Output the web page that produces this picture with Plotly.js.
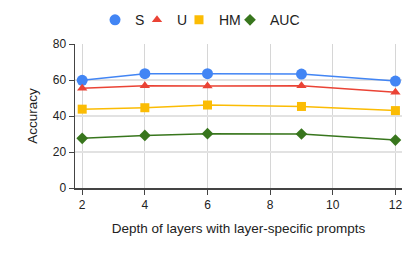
<!DOCTYPE html>
<html><head><meta charset="utf-8">
<script src="https://cdn.plot.ly/plotly-3.0.1.min.js"></script>
<style>html,body{margin:0;padding:0;background:#fff}#c{width:415px;height:257px}</style>
</head><body><div id="c"></div>
<script>
const depths = [2, 4, 6, 9, 12];
const S   = [59.8, 63.5, 63.5, 63.3, 59.4];
const U   = [55.4, 56.8, 56.6, 56.8, 53.2];
const HM  = [43.8, 44.6, 46.1, 45.3, 43.0];
const AUC = [27.6, 29.2, 30.2, 30.0, 26.6];
const names = ['S', 'U', 'HM', 'AUC'];
const colors = ['#4285F4', '#EA4335', '#FBBC04', '#38761D'];
const symbols = ['circle', 'triangle-up', 'square', 'diamond'];
const sizes = [11, 9, 9, 9];
const xTicks = [2, 4, 6, 8, 10, 12];
const yTicks = [0, 20, 40, 60, 80];

const series = [S, U, HM, AUC];
const legendIds = ['legend', 'legend2', 'legend3', 'legend4'];
const legendX = [0.0612, 0.1896, 0.318, 0.474];
const data = [];
series.forEach((ys, i) => {
  data.push({
    x: depths, y: ys, name: names[i], type: 'scatter', mode: 'lines+markers',
    showlegend: false,
    line: {color: colors[i], width: 1.5},
    marker: {color: colors[i], symbol: symbols[i], size: sizes[i]}
  });
});
series.forEach((ys, i) => {
  data.push({
    x: [null], y: [null], name: names[i], type: 'scatter', mode: 'markers',
    showlegend: true, legend: legendIds[i],
    marker: {color: colors[i], symbol: symbols[i], size: sizes[i]}
  });
});

const layout = {
  width: 415, height: 257,
  margin: {l: 75, r: 13, t: 44, b: 69, autoexpand: false},
  paper_bgcolor: '#fff', plot_bgcolor: '#fff',
  font: {family: 'Liberation Sans, Arial, sans-serif', size: 12, color: '#222'},
  showlegend: true,
  xaxis: {
    range: [1.77, 12.21], tickvals: xTicks, ticktext: xTicks.map(String),
    showgrid: true, gridcolor: '#d6d6d6', gridwidth: 1,
    zeroline: false, showline: true, linecolor: '#444', linewidth: 1.5,
    ticks: 'outside', ticklen: 5, tickcolor: '#444',
    tickfont: {size: 12, color: '#222'},
    title: {text: 'Depth of layers with layer-specific prompts', font: {size: 13.5, color: '#222'}, standoff: 12}
  },
  yaxis: {
    range: [0, 80], tickvals: yTicks, ticktext: yTicks.map(String),
    showgrid: true, gridcolor: '#e2e2e2', gridwidth: 1.5,
    zeroline: false, showline: true, linecolor: '#444', linewidth: 1.5,
    ticks: 'outside', ticklen: 5, tickcolor: '#444',
    tickfont: {size: 12, color: '#222'},
    title: {text: 'Accuracy', font: {size: 13.5, color: '#222'}, standoff: 12}
  }
};
legendIds.forEach((id, i) => {
  layout[id] = {orientation: 'h', x: legendX[i], xanchor: 'left', y: 1.165, yanchor: 'middle',
    font: {size: 14, color: '#222'}, itemwidth: 30, bgcolor: 'rgba(0,0,0,0)'};
});
Plotly.newPlot('c', data, layout, {displayModeBar: false, staticPlot: true});
</script></body></html>
